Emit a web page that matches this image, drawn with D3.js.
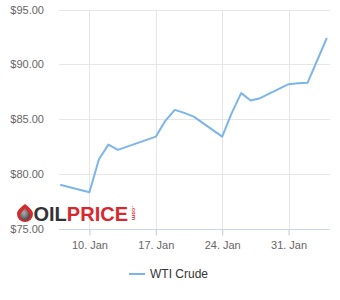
<!DOCTYPE html>
<html>
<head>
<meta charset="utf-8">
<script src="https://cdn.jsdelivr.net/npm/d3@7"></script>
<style>
  html, body { margin: 0; padding: 0; background: #fff; }
  svg { display: block; font-family: "Liberation Sans", Arial, sans-serif; }
</style>
</head>
<body>
<svg id="chart" width="340" height="300"></svg>
<script>
// ---- data ----
const dates = ["2022-01-07","2022-01-10","2022-01-11","2022-01-12","2022-01-13","2022-01-17",
  "2022-01-18","2022-01-19","2022-01-20","2022-01-21","2022-01-24","2022-01-25","2022-01-26",
  "2022-01-27","2022-01-28","2022-01-31","2022-02-01","2022-02-02","2022-02-04"];
const prices = [78.99, 78.33, 81.34, 82.67, 82.19, 83.40, 84.84, 85.84, 85.57, 85.23, 83.40,
  85.54, 87.37, 86.69, 86.91, 88.19, 88.26, 88.31, 92.33];
const seriesName = "WTI Crude";
const yTicks = [75, 80, 85, 90, 95];
const xTicks = ["2022-01-10","2022-01-17","2022-01-24","2022-01-31"];

// ---- layout ----
const svg = d3.select("#chart");
const plotLeft = 59, plotRight = 330, plotTop = 9.5, plotBottom = 228.7;
const parse = d3.utcParse("%Y-%m-%d");
const data = dates.map((d, i) => ({ date: parse(d), value: prices[i] }));

const x = d3.scaleUtc()
  .domain([parse("2022-01-07"), parse("2022-02-04")])
  .range([61, 326.5]);
const y = d3.scaleLinear().domain([75, 95]).range([plotBottom, plotTop]);

// horizontal grid
svg.append("g").selectAll("line").data(yTicks).join("line")
  .attr("x1", plotLeft).attr("x2", plotRight)
  .attr("y1", d => Math.round(y(d)) + 0.5).attr("y2", d => Math.round(y(d)) + 0.5)
  .attr("stroke", "#e6e6e6").attr("stroke-width", 1);

// vertical grid
svg.append("g").selectAll("line").data(xTicks.map(parse)).join("line")
  .attr("x1", d => Math.round(x(d)) + 0.5).attr("x2", d => Math.round(x(d)) + 0.5)
  .attr("y1", plotTop).attr("y2", plotBottom)
  .attr("stroke", "#e6e6e6").attr("stroke-width", 1);

// y axis labels
const fmtY = d => "$" + d.toFixed(2);
svg.append("g").selectAll("text").data(yTicks).join("text")
  .attr("x", 44).attr("y", d => y(d) + 4)
  .attr("text-anchor", "end")
  .attr("font-size", 11).attr("fill", "#666666")
  .text(fmtY);

// x axis
const xAxis = d3.axisBottom(x)
  .tickValues(xTicks.map(parse))
  .tickFormat(d3.utcFormat("%-d. %b"))
  .tickSize(6).tickSizeOuter(0);
const gx = svg.append("g")
  .attr("transform", `translate(0,${Math.round(plotBottom) + 0.5})`)
  .call(xAxis);
gx.select(".domain").attr("d", `M${plotLeft},0H${plotRight}`).attr("stroke", "#ccd6eb");
gx.selectAll(".tick line").attr("stroke", "#c8c8c8");
gx.selectAll(".tick text").attr("font-size", 11).attr("fill", "#666666")
  .attr("font-family", "'Liberation Sans', Arial, sans-serif").attr("dy", "0.95em");

// watermark logo
const logo = svg.append("g");
const cx = 25, cy = 213;
logo.append("path")
  .attr("d", `M${cx},${cy-9} C${cx+3},${cy-6.5} ${cx+8},${cy-3} ${cx+8},${cy+1} A8,8 0 1 1 ${cx-8},${cy+1} C${cx-8},${cy-3} ${cx-3},${cy-6.5} ${cx},${cy-9}Z`)
  .attr("fill", "#d8282e");
const grad = svg.append("defs").append("radialGradient").attr("id", "dropg")
  .attr("cx", "40%").attr("cy", "40%").attr("r", "70%");
grad.append("stop").attr("offset", "0%").attr("stop-color", "#b0b0b0");
grad.append("stop").attr("offset", "100%").attr("stop-color", "#3a3a3a");
logo.append("path")
  .attr("d", `M${cx},${cy-5} C${cx+2},${cy-2} ${cx+5},${cy} ${cx+5},${cy+2.5} A5,5 0 1 1 ${cx-5},${cy+2.5} C${cx-5},${cy} ${cx-2},${cy-2} ${cx},${cy-5}Z`)
  .attr("fill", "url(#dropg)");
const lt = logo.append("text").attr("x", 33.5).attr("y", 220.5)
  .attr("font-size", 20).attr("font-weight", "bold")
  .attr("font-family", "'Liberation Sans', Arial, sans-serif");
lt.append("tspan").attr("fill", "#333333").text("OIL");
lt.append("tspan").attr("fill", "#d8282e").text("PRICE");
logo.append("text")
  .attr("transform", "translate(131.5,206) rotate(90)")
  .attr("font-size", 6).attr("font-weight", "bold").attr("fill", "#d8282e")
  .attr("font-family", "'Liberation Sans', Arial, sans-serif")
  .text(".com");

// series line
const line = d3.line().x(d => x(d.date)).y(d => y(d.value));
svg.append("path").datum(data)
  .attr("d", line)
  .attr("fill", "none")
  .attr("stroke", "#7cb5ec")
  .attr("stroke-width", 2)
  .attr("stroke-linejoin", "round")
  .attr("stroke-linecap", "round");

// legend
const lg = svg.append("g");
lg.append("line").attr("x1", 129).attr("x2", 145).attr("y1", 274).attr("y2", 274)
  .attr("stroke", "#7cb5ec").attr("stroke-width", 2);
lg.append("text").attr("x", 150).attr("y", 278.2)
  .attr("font-size", 12).attr("fill", "#333333")
  .text(seriesName);
</script>
</body>
</html>
